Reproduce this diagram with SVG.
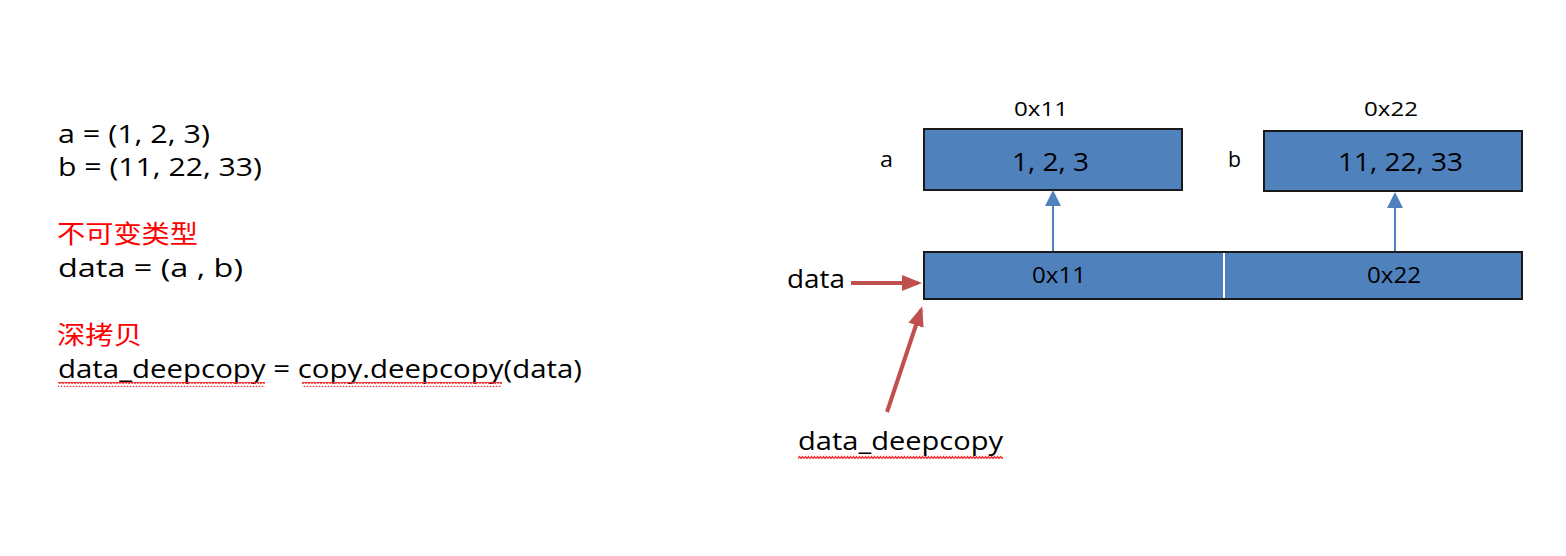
<svg xmlns="http://www.w3.org/2000/svg" width="1566" height="556" viewBox="0 0 1566 556">
<defs>
<style>
.t{font-family:"Open Sans","Liberation Sans",Arial,sans-serif;fill:#000}
.cn{font-family:"Noto Sans CJK SC","Noto Sans",sans-serif;fill:#ff0000;font-size:25px}
.box{fill:#4f81bd;stroke:#1a1a1a;stroke-width:2}
.blue{stroke:#4f81bd;stroke-width:2;fill:none}
.red{stroke:#c0504d;stroke-width:4;fill:none}
.wave{stroke:#f02a2a;stroke-width:1.3;fill:none}
</style>
<marker id="bh" markerWidth="8" markerHeight="8" refX="7" refY="4" orient="auto" markerUnits="strokeWidth"><path d="M0,0 L8,4 L0,8 Z" fill="#4f81bd"/></marker>
<marker id="rh" markerWidth="5" markerHeight="4" refX="4" refY="2" orient="auto" markerUnits="strokeWidth"><path d="M0,0 L5,2 L0,4 Z" fill="#c0504d"/></marker>
<pattern id="wv" width="6" height="5" patternUnits="userSpaceOnUse"><path d="M0,3.5 L1.5,1.5 L3,3.5 L4.5,1.5 L6,3.5" class="wave"/></pattern>
</defs>
<rect width="1566" height="556" fill="#fff"/>
<g id="code">
<text class="t" x="58" y="143" font-size="26" textLength="152" lengthAdjust="spacingAndGlyphs">a = (1, 2, 3)</text>
<text class="t" x="58" y="176" font-size="26" textLength="204" lengthAdjust="spacingAndGlyphs">b = (11, 22, 33)</text>
<text class="cn" x="57" y="243" textLength="141" lengthAdjust="spacingAndGlyphs">不可变类型</text>
<text class="t" x="58" y="277" font-size="26" textLength="185" lengthAdjust="spacingAndGlyphs">data = (a ,  b)</text>
<text class="cn" x="57" y="344" textLength="85" lengthAdjust="spacingAndGlyphs">深拷贝</text>
<text class="t" x="58" y="378" font-size="26" textLength="524" lengthAdjust="spacingAndGlyphs">data_deepcopy = copy.deepcopy(data)</text>
<rect x="58" y="382" width="207" height="5" fill="url(#wv)"/>
<rect x="302" y="382" width="200" height="5" fill="url(#wv)"/>
</g>
<g id="node-a">
<text class="t" x="1014" y="116" font-size="20" textLength="54" lengthAdjust="spacingAndGlyphs">0x11</text>
<text class="t" x="880" y="167" font-size="21" textLength="13" lengthAdjust="spacingAndGlyphs">a</text>
<rect class="box" x="924" y="129" width="258" height="61"/>
<text class="t" x="1012" y="171" font-size="26" textLength="77" lengthAdjust="spacingAndGlyphs">1, 2, 3</text>
</g>
<g id="node-b">
<text class="t" x="1364" y="116" font-size="20" textLength="54" lengthAdjust="spacingAndGlyphs">0x22</text>
<text class="t" x="1228" y="167" font-size="21" textLength="13" lengthAdjust="spacingAndGlyphs">b</text>
<rect class="box" x="1264" y="131" width="258" height="60"/>
<text class="t" x="1338" y="171" font-size="26" textLength="125" lengthAdjust="spacingAndGlyphs">11, 22, 33</text>
</g>
<g id="node-data">
<rect class="box" x="924" y="252" width="598" height="47"/>
<line x1="1224" y1="253" x2="1224" y2="298" stroke="#fff" stroke-width="2"/>
<text class="t" x="1032" y="283" font-size="21" textLength="54" lengthAdjust="spacingAndGlyphs">0x11</text>
<text class="t" x="1367" y="283" font-size="21" textLength="54" lengthAdjust="spacingAndGlyphs">0x22</text>
</g>
<g id="label-data">
<text class="t" x="787" y="288" font-size="26" textLength="58" lengthAdjust="spacingAndGlyphs">data</text>
</g>
<g id="label-deepcopy">
<text class="t" x="798" y="450" font-size="26" textLength="205" lengthAdjust="spacingAndGlyphs">data_deepcopy</text>
<rect x="798" y="454" width="205" height="5" fill="url(#wv)"/>
</g>
<g id="connectors">
<line class="blue" x1="1053" y1="251" x2="1053" y2="192" marker-end="url(#bh)"/>
<line class="blue" x1="1395" y1="251" x2="1395" y2="194" marker-end="url(#bh)"/>
<line class="red" x1="851" y1="283" x2="918" y2="283" marker-end="url(#rh)"/>
<line class="red" x1="887" y1="412" x2="921" y2="310" marker-end="url(#rh)"/>
</g>
</svg>
